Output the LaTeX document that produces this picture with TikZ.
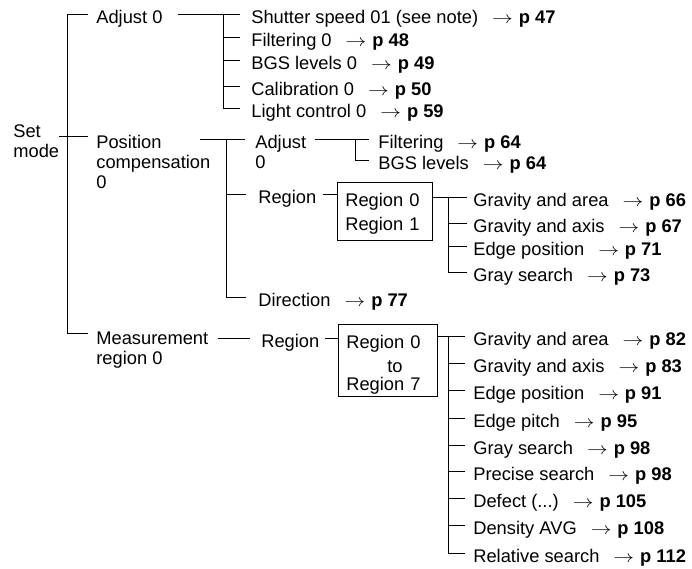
\documentclass[tikz,border=0pt]{standalone}
\usepackage{fontspec}
\usepackage{graphicx}
\setmainfont{Liberation Sans}
\usetikzlibrary{calc}

\newcommand{\pg}[1]{\hspace{14pt}\scalebox{1.2}[1]{$\rightarrow$}\hspace{6pt}\textbf{p #1}}

\tikzset{
  item/.style={anchor=west, inner sep=0pt, text height=19pt, text depth=0pt},
  multi/.style={anchor=north west, inner sep=0pt, align=left},
  regbox/.style={draw, anchor=north west, align=left, inner xsep=8pt, inner ysep=0pt, text height=24pt},
}

\begin{document}
\begin{tikzpicture}[x=1pt, y=-1pt, line width=0.7pt, font=\fontsize{18.3}{20}\selectfont]
  \useasboundingbox (0,0) rectangle (692,569);
  % bus lines
  \coordinate (b0) at (67,0);
  \coordinate (b1) at (223,0);
  \coordinate (b2) at (226,0);
  \coordinate (b3) at (355,0);
  \coordinate (b4) at (448,0);

  % first level
  \node[multi] (set) at (13,124) {Set\\mode};
  \node[item] (adj) at (96,14) {Adjust 0};
  \node[multi] (pc) at (96,135) {Position\\compensation\\0};
  \node[multi] (mr) at (96,332) {Measurement\\region 0};
  \coordinate (pcl) at ([yshift=-1pt]pc.north west);
  \coordinate (mrl) at ([yshift=-1pt]mr.north west);
  \draw ([xshift=-8pt]adj.west) -| (b0 |- mrl) -- ([xshift=-8pt]mrl);
  \draw ([yshift=-12pt]set.north east) -- ([xshift=-8pt]pcl);

  % adjust 0
  \foreach \n/\y/\t/\p in {sh/14/Shutter speed 01 (see note)/47, fi/37/Filtering 0/48,
      bg/60/BGS levels 0/49, ca/86/Calibration 0/50, lc/108/Light control 0/59}
    \node[item] (\n) at (251,\y) {\t\pg{\p}};
  \draw ([xshift=15pt]adj.east) -- ([xshift=-11pt]sh.west);
  \draw (b1 |- sh.west) -- (b1 |- lc.west) -- ([xshift=-11pt]lc.west);
  \foreach \n in {fi,bg,ca} \draw (b1 |- \n.west) -- ([xshift=-11pt]\n.west);

  % position compensation
  \node[multi] (pa) at (255,135) {Adjust\\0};
  \coordinate (pal) at ([yshift=-4pt]pa.north west);
  \node[item] (reg) at (258,194) {Region};
  \node[item] (dir) at (258,297) {Direction\pg{77}};
  \draw ($(pc.north east |- pal)+(-11pt,0)$) -- ([xshift=-10pt]pal);
  \draw (b2 |- pal) -- (b2 |- dir.west) -- ([xshift=-12pt]dir.west);
  \draw (b2 |- reg.west) -- ([xshift=-12pt]reg.west);

  \node[item] (fil) at (378,139) {Filtering\pg{64}};
  \node[item] (bgs) at (378,160) {BGS levels\pg{64}};
  \draw ($(pal -| pa.east)+(8pt,0)$) -- ([xshift=-9pt]fil.west);
  \draw (b3 |- fil.west) |- ([xshift=-9pt]bgs.west);

  \node[regbox, text width=79pt, text depth=34pt] (rb1) at (337,182) {Region 0\\[4pt]Region 1};
  \draw ([xshift=6pt]reg.east) -- (reg.west -| rb1.west);
  \foreach \n/\y/\t/\p in {ga1/197/Gravity and area/66, gx1/223/Gravity and axis/67,
      ep1/246/Edge position/71, gs1/272/Gray search/73}
    \node[item] (\n) at (473,\y) {\t\pg{\p}};
  \draw (ga1.west -| rb1.east) -- ([xshift=-6pt]ga1.west);
  \draw (b4 |- ga1.west) |- ([xshift=-6pt]gs1.west);
  \foreach \n in {gx1,ep1} \draw (b4 |- \n.west) -- ([xshift=-6pt]\n.west);

  % measurement region
  \node[item] (reg2) at (261,338) {Region};
  \draw ($(reg2.west -| mr.east)+(9pt,0)$) -- ([xshift=-11pt]reg2.west);
  \node[regbox, text width=83pt, text depth=48pt] (rb2) at (338,324)
    {Region 0\\[4pt]\hspace*{41pt}to\\[-2pt]Region 7};
  \draw ([xshift=5pt]reg2.east) -- (reg2.west -| rb2.west);
  \foreach \n/\y/\t/\p in {ga2/336/Gravity and area/82, gx2/363/Gravity and axis/83,
      ep2/390/Edge position/91, pi2/418/Edge pitch/95, gs2/445/Gray search/98,
      ps2/471/Precise search/98, df2/498/{Defect (...)}/105, da2/525/Density AVG/108,
      rs2/553/Relative search/112}
    \node[item] (\n) at (473,\y) {\t\pg{\p}};
  \draw (ga2.west -| rb2.east) -- ([xshift=-8pt]ga2.west);
  \draw (b4 |- ga2.west) |- ([xshift=-8pt]rs2.west);
  \foreach \n in {gx2,ep2,pi2,gs2,ps2,df2,da2} \draw (b4 |- \n.west) -- ([xshift=-8pt]\n.west);
\end{tikzpicture}
\end{document}
